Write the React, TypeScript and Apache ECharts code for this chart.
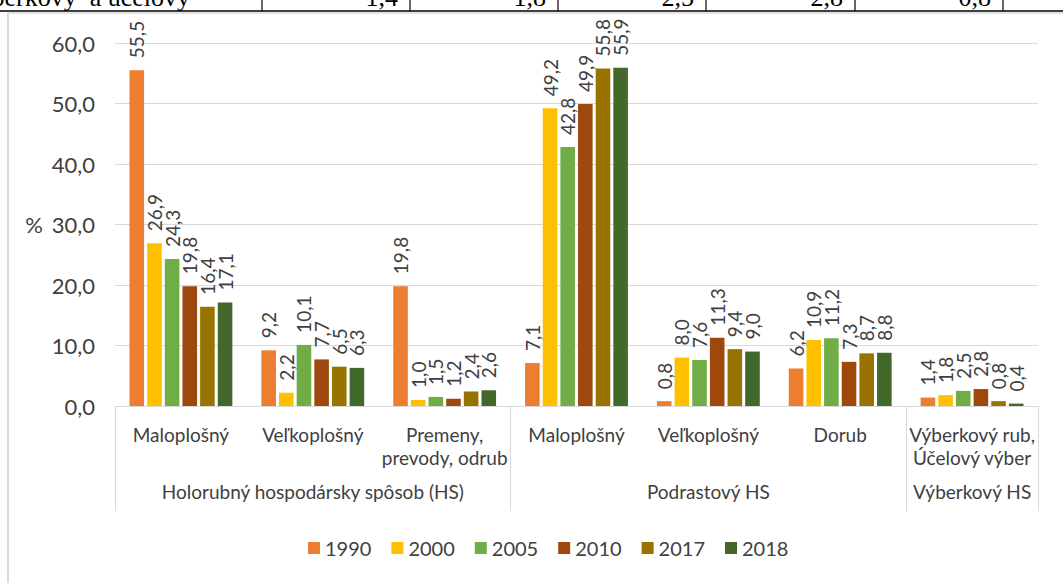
import React, { useEffect, useRef } from "react";
import * as echarts from "echarts";

const categories = [
  "Maloplošný",
  "Veľkoplošný",
  "Premeny,\nprevody, odrub",
  "Maloplošný",
  "Veľkoplošný",
  "Dorub",
  "Výberkový rub,\nÚčelový výber",
];
const groups = ["Holorubný hospodársky spôsob (HS)", "Podrastový HS", "Výberkový HS"];
const groupSpans = [3, 3, 1];
const years = ["1990", "2000", "2005", "2010", "2017", "2018"];
const v1990 = [55.5, 9.2, 19.8, 7.1, 0.8, 6.2, 1.4];
const v2000 = [26.9, 2.2, 1.0, 49.2, 8.0, 10.9, 1.8];
const v2005 = [24.3, 10.1, 1.5, 42.8, 7.6, 11.2, 2.5];
const v2010 = [19.8, 7.7, 1.2, 49.9, 11.3, 7.3, 2.8];
const v2017 = [16.4, 6.5, 2.4, 55.8, 9.4, 8.7, 0.8];
const v2018 = [17.1, 6.3, 2.6, 55.9, 9.0, 8.8, 0.4];
const colors = ["#ED7D31", "#FFC000", "#70AD47", "#9E480E", "#997300", "#43682B"];
const yMin = 0;
const yMax = 60;
const yStep = 10;

// fragment of the document table visible above the chart
const stripText = "berkový  a účelový";
const stripValues = ["1,4", "1,8", "2,5", "2,8", "0,8"];

const FONT = "Lato";
const fmt = (v: number) => v.toFixed(1).replace(".", ",");

export default function App() {
  const ref = useRef<HTMLDivElement>(null);
  useEffect(() => {
    if (!ref.current) return;
    const chart = echarts.init(ref.current, undefined, { renderer: "svg" });
    const seriesData = [v1990, v2000, v2005, v2010, v2017, v2018];

    const bounds: number[] = [0];
    groupSpans.forEach((s) => bounds.push(bounds[bounds.length - 1] + s));
    const centers = groupSpans.map((s, i) => bounds[i] + s / 2);

    const stripLines = [262, 410, 558, 706, 855, 1003];

    chart.setOption({
      animation: false,
      textStyle: { fontFamily: FONT },
      color: colors,
      grid: { left: 115, right: 25, top: 43, bottom: 177, containLabel: false },
      legend: {
        data: years,
        bottom: 20,
        left: 303,
        icon: "rect",
        itemWidth: 12,
        itemHeight: 12,
        itemGap: 20,
        textStyle: { fontSize: 20, color: "#404040", fontFamily: FONT },
      },
      xAxis: [
        {
          type: "category",
          data: categories,
          position: "bottom",
          axisLine: { show: true, lineStyle: { color: "#d9d9d9", width: 1 } },
          axisTick: { show: false },
          axisLabel: {
            interval: 0,
            margin: 17,
            fontSize: 19,
            lineHeight: 23,
            color: "#404040",
            fontFamily: FONT,
          },
          splitLine: { show: false },
        },
        {
          type: "value",
          min: 0,
          max: categories.length,
          position: "bottom",
          axisLine: { show: false },
          splitLine: { show: false },
          axisTick: {
            show: true,
            customValues: bounds,
            length: 105,
            lineStyle: { color: "#d9d9d9", width: 1 },
          },
          axisLabel: {
            show: true,
            customValues: centers,
            margin: 76,
            fontSize: 19,
            color: "#404040",
            fontFamily: FONT,
            formatter: (v: number) => {
              const i = centers.findIndex((c) => Math.abs(c - v) < 1e-6);
              return i >= 0 ? groups[i] : "";
            },
          },
        },
      ],
      yAxis: {
        type: "value",
        min: yMin,
        max: yMax,
        interval: yStep,
        name: "%",
        nameLocation: "middle",
        nameRotate: 0,
        nameGap: 72,
        nameTextStyle: { fontSize: 22, color: "#404040", fontFamily: FONT },
        axisLine: { show: false },
        axisTick: { show: false },
        axisLabel: {
          margin: 20,
          fontSize: 22,
          color: "#404040",
          fontFamily: FONT,
          formatter: (v: number) => fmt(v),
        },
        splitLine: { lineStyle: { color: "#d9d9d9", width: 1 } },
      },
      series: years.map((y, i) => ({
        name: y,
        type: "bar",
        xAxisIndex: 0,
        data: seriesData[i],
        barGap: "21%",
        barCategoryGap: "22%",
        itemStyle: { color: colors[i] },
        label: {
          show: true,
          position: "top",
          rotate: 90,
          align: "left",
          verticalAlign: "middle",
          distance: 12,
          fontSize: 19,
          color: "#404040",
          fontFamily: FONT,
          formatter: (p: any) => fmt(p.value),
        },
      })),
      graphic: [
        {
          type: "line",
          shape: { x1: 8, y1: 13, x2: 1063, y2: 13 },
          style: { stroke: "#e3e3e3", lineWidth: 2 },
          silent: true,
        },
        {
          type: "line",
          shape: { x1: 8, y1: 13, x2: 8, y2: 583 },
          style: { stroke: "#d9d9d9", lineWidth: 2 },
          silent: true,
        },
        {
          type: "line",
          shape: { x1: 0, y1: 11, x2: 1063, y2: 11 },
          style: { stroke: "#000000", lineWidth: 1.5 },
          silent: true,
        },
        ...stripLines.map((x) => ({
          type: "line",
          shape: { x1: x, y1: 0, x2: x, y2: 11 },
          style: { stroke: "#000000", lineWidth: 1.2 },
          silent: true,
        })),
        {
          type: "text",
          x: 190,
          y: 10,
          style: {
            text: stripText,
            font: "26px 'Liberation Serif'",
            fill: "#000",
            align: "right",
            verticalAlign: "bottom",
          },
          silent: true,
        },
        ...stripValues.map((t, i) => ({
          type: "text",
          x: stripLines[i + 1] - 12,
          y: 10,
          style: {
            text: t,
            font: "26px 'Liberation Serif'",
            fill: "#000",
            align: "right",
            verticalAlign: "bottom",
          },
          silent: true,
        })),
      ],
    });
    return () => chart.dispose();
  }, []);
  return (
    <div
      ref={ref}
      style={{ position: "fixed", left: 0, top: 0, width: 1063, height: 583, background: "#fff" }}
    />
  );
}
